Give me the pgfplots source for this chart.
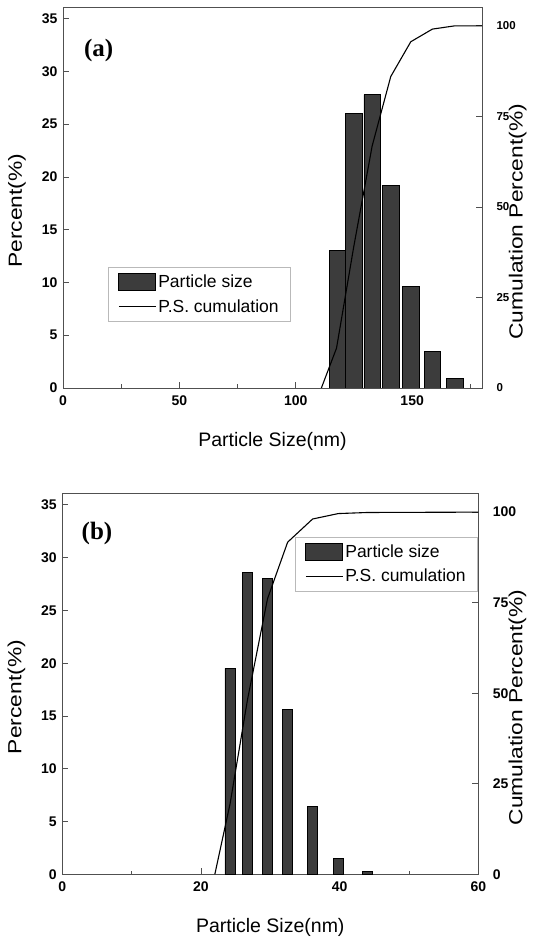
\documentclass[border=0pt]{standalone}
\usepackage{fontspec}
\setmainfont{Liberation Sans}
\newfontfamily\serifbf{Liberation Serif}
\newfontfamily\vlabfont{Liberation Sans}[FakeStretch=1.2]
\usepackage{pgfplots}
\pgfplotsset{compat=1.18}
\definecolor{barc}{HTML}{3C3C3C}
\definecolor{axc}{HTML}{505050}

\pgfplotsset{
  panel/.style={
    scale only axis, anchor=south west,
    height=381bp, ymin=0,
    /pgf/number format/assume math mode=true,
    axis line style={axc, line width=0.9bp},
    tick style={axc, line width=0.8bp},
    major tick length=6bp, minor tick length=3.5bp,
    tick align=inside,
    tick label style={font=\bfseries\fontsize{14bp}{15bp}\selectfont},
    every axis x label/.style={at={(axis description cs:0.5,-0.139)}, anchor=center,
      font=\fontsize{19.5bp}{22bp}\selectfont},
    xticklabel style={yshift=-4bp},
  },
  leftax/.style={panel, ytick={0,5,...,35}, ymax=36.1, xtick pos=bottom, ytick pos=left,
    yticklabel style={xshift=-2bp},
    every axis y label/.style={at={(axis description cs:-0.11,0.465)}, rotate=90, anchor=center,
      font=\vlabfont\fontsize{19bp}{22bp}\selectfont},
    ylabel={Percent(\%)}, xlabel={Particle Size(nm)}},
  rightax/.style={panel, ymax=105.2, ytick={0,25,50,75,100},
    axis x line=none, axis y line*=right, y axis line style={-},
    yticklabel style={xshift=11bp},
    every axis y label/.style={rotate=90, anchor=center,
      font=\vlabfont\fontsize{19bp}{22bp}\selectfont},
    ylabel={Cumulation Percent(\%)},
    legend cell align=left,
    legend style={draw=gray!55, line width=0.8bp, fill=white,
      font=\fontsize{17.5bp}{20bp}\selectfont, inner xsep=10bp, inner ysep=6bp, row sep=6bp}},
  barleg/.style={legend image code/.code={
    \draw[fill=barc, draw=black, line width=0.8bp] (0bp,-8.5bp) rectangle (37bp,8.5bp);}},
  lineleg/.style={legend image code/.code={
    \draw[black, line width=1.1bp] (0bp,0bp) -- (37bp,0bp);}},
}

\begin{document}
\begin{tikzpicture}
\useasboundingbox (0,0) rectangle (533bp,943bp);

% ---- panel (a) ----
\begin{axis}[leftax, at={(63bp,555bp)}, width=419bp,
  xmin=0, xmax=180, xtick={0,50,100,150}, minor xtick={25,75,125,175}]
\addplot[ybar, bar width=7.1, fill=barc, draw=black, line width=0.7bp] coordinates
  {(117.9,13.0)(124.9,26.0)(132.8,27.8)(140.8,19.2)(149.4,9.6)(158.7,3.5)(168.4,0.9)};
\node[font=\serifbf\bfseries\fontsize{25bp}{26bp}\selectfont] at (axis cs:15.3,32) {(a)};
\end{axis}
\begin{axis}[rightax, at={(63bp,555bp)}, width=419bp,
  xmin=0, xmax=180,
  tick label style={font=\bfseries\fontsize{11.5bp}{12bp}\selectfont},
  every axis y label/.append style={at={(axis description cs:1.085,0.436)}},
  legend style={at={(axis description cs:0.107,0.318)}, anchor=north west}]
\addlegendimage{barleg}
\addlegendentry{Particle size}
\addplot[black, line width=1.1bp, lineleg] coordinates
  {(111,0)(117.5,11)(124.9,39)(132.8,66.8)(140.8,86)(149.4,95.6)(158.7,99.1)(168.4,100)(180,100)};
\addlegendentry{P.S. cumulation}
\end{axis}

% ---- panel (b) ----
\begin{axis}[leftax, at={(62.3bp,68.7bp)}, width=416bp,
  xmin=0, xmax=60, xtick={0,20,40,60}, minor xtick={10,30,50}]
\addplot[ybar, bar width=1.47, fill=barc, draw=black, line width=0.7bp] coordinates
  {(24.2,19.5)(26.7,28.6)(29.6,28.0)(32.5,15.6)(36.1,6.4)(39.8,1.5)(44.0,0.25)};
\node[font=\serifbf\bfseries\fontsize{25bp}{26bp}\selectfont] at (axis cs:5,32.3) {(b)};
\end{axis}
\begin{axis}[rightax, at={(62.3bp,68.7bp)}, width=416bp,
  xmin=0, xmax=60,
  every axis y label/.append style={at={(axis description cs:1.094,0.438)}},
  legend style={at={(axis description cs:0.559,0.886)}, anchor=north west}]
\addlegendimage{barleg}
\addlegendentry{Particle size}
\addplot[black, line width=1.1bp, lineleg] coordinates
  {(22,0)(24.2,19.5)(26.7,48.1)(29.6,76.1)(32.5,91.7)(36.1,98.1)(39.8,99.6)(44,99.9)(60,100)};
\addlegendentry{P.S. cumulation}
\end{axis}
\end{tikzpicture}
\end{document}
